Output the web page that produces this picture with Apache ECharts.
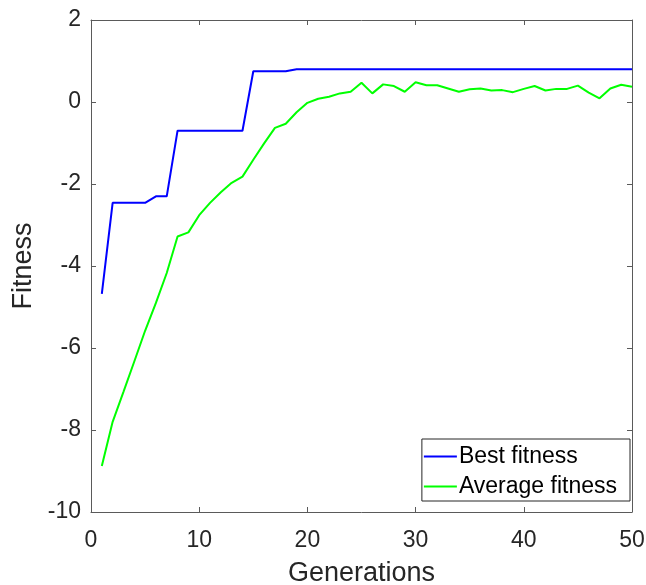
<!DOCTYPE html>
<html>
<head>
<meta charset="utf-8">
<script src="https://cdn.jsdelivr.net/npm/echarts@6/dist/echarts.min.js"></script>
<style>
    html, body { margin: 0; padding: 0; background: #fff; }
    #chart { width: 646px; height: 585px; }
</style>
</head>
<body>
<div id="chart"></div>
<script>
    var generations = [1, 2, 3, 4, 5, 6, 7, 8, 9, 10, 11, 12, 13, 14, 15, 16, 17, 18, 19, 20,
        21, 22, 23, 24, 25, 26, 27, 28, 29, 30, 31, 32, 33, 34, 35, 36, 37, 38, 39, 40,
        41, 42, 43, 44, 45, 46, 47, 48, 49, 50];
    var bestFitness = [-4.68, -2.46, -2.46, -2.46, -2.46, -2.3, -2.3, -0.7, -0.7, -0.7,
        -0.7, -0.7, -0.7, -0.7, 0.75, 0.75, 0.75, 0.75, 0.8, 0.8,
        0.8, 0.8, 0.8, 0.8, 0.8, 0.8, 0.8, 0.8, 0.8, 0.8,
        0.8, 0.8, 0.8, 0.8, 0.8, 0.8, 0.8, 0.8, 0.8, 0.8,
        0.8, 0.8, 0.8, 0.8, 0.8, 0.8, 0.8, 0.8, 0.8, 0.8];
    var avgFitness = [-8.88, -7.80, -7.07, -6.33, -5.58, -4.90, -4.17, -3.28, -3.18, -2.76,
        -2.46, -2.20, -1.97, -1.82, -1.41, -1.01, -0.63, -0.53, -0.25, -0.02,
        0.08, 0.13, 0.21, 0.25, 0.47, 0.21, 0.43, 0.39, 0.25, 0.48,
        0.41, 0.41, 0.33, 0.25, 0.31, 0.33, 0.28, 0.29, 0.24, 0.32,
        0.39, 0.28, 0.32, 0.32, 0.40, 0.23, 0.09, 0.33, 0.42, 0.37];
    var seriesNames = ['Best fitness', 'Average fitness'];

    var font = '"Liberation Sans", Arial, sans-serif';
    var axisColor = '#5a5a5a';
    var textColor = '#262626';

    function pairs(ys) {
        return generations.map(function(g, i) { return [g, ys[i]]; });
    }

    var myChart = echarts.init(document.getElementById('chart'));

    //坐标轴公共样式
    var tick = { show: true, inside: true, length: 5, lineStyle: { color: axisColor } };
    var line = { show: true, onZero: false, lineStyle: { color: axisColor, width: 1 } };

    var option = {
        animation: false,
        textStyle: { fontFamily: font },
        grid: { left: 91, right: 14, top: 20, bottom: 73, outerBoundsMode: 'none', containLabel: false },
        legend: {
            data: seriesNames,
            orient: 'vertical',
            right: 16,
            bottom: 84,
            icon: 'rect',
            itemWidth: 33,
            itemHeight: 2,
            itemGap: 7,
            padding: [6, 13, 3, 2],
            borderColor: '#262626',
            borderWidth: 1,
            backgroundColor: '#fff',
            textStyle: { fontFamily: font, fontSize: 23, color: '#000', padding: [0, 0, 0, -3] }
        },
        xAxis: [{
            type: 'value',
            min: 0, max: 50, interval: 10,
            name: 'Generations',
            nameLocation: 'middle',
            nameGap: 48,
            nameTextStyle: { fontSize: 27, color: textColor, fontFamily: font },
            axisLine: line,
            axisTick: tick,
            axisLabel: { fontSize: 23, color: textColor, margin: 17, fontFamily: font },
            splitLine: { show: false }
        }, {
            type: 'value', position: 'top',
            min: 0, max: 50, interval: 10,
            axisLine: line, axisTick: tick,
            axisLabel: { show: false }, splitLine: { show: false }
        }],
        yAxis: [{
            type: 'value',
            min: -10, max: 2, interval: 2,
            name: 'Fitness',
            nameLocation: 'middle',
            nameGap: 54,
            nameTextStyle: { fontSize: 27, color: textColor, fontFamily: font },
            axisLine: line,
            axisTick: tick,
            axisLabel: { fontSize: 23, color: textColor, margin: 10, fontFamily: font },
            splitLine: { show: false }
        }, {
            type: 'value', position: 'right',
            min: -10, max: 2, interval: 2,
            axisLine: line, axisTick: tick,
            axisLabel: { show: false }, splitLine: { show: false }
        }],
        series: [{
            name: seriesNames[0],
            type: 'line',
            data: pairs(bestFitness),
            showSymbol: false,
            lineStyle: { color: '#0000ff', width: 2 },
            itemStyle: { color: '#0000ff' }
        }, {
            name: seriesNames[1],
            type: 'line',
            data: pairs(avgFitness),
            showSymbol: false,
            lineStyle: { color: '#00ff00', width: 2 },
            itemStyle: { color: '#00ff00' }
        }]
    };

    myChart.setOption(option);
</script>
</body>
</html>
